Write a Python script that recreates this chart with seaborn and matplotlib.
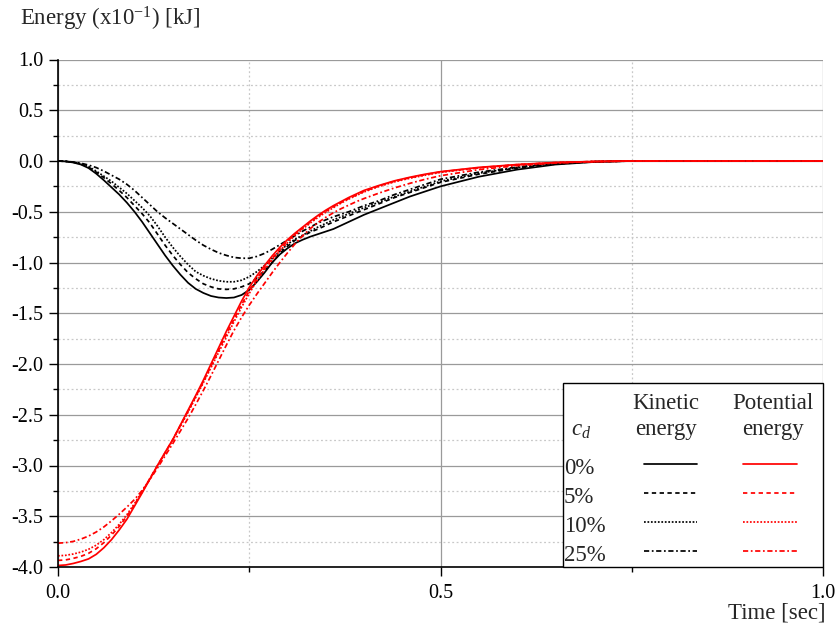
import numpy as np
import pandas as pd
import matplotlib
matplotlib.use("Agg")
import matplotlib.pyplot as plt
import seaborn as sns
from matplotlib.patches import Rectangle
from matplotlib.ticker import MultipleLocator

# ---------------- data ----------------
time = [0.00, 0.01, 0.02, 0.03, 0.04, 0.05, 0.06, 0.07, 0.08, 0.09,
        0.10, 0.11, 0.12, 0.13, 0.14, 0.15, 0.16, 0.17, 0.18, 0.19,
        0.20, 0.21, 0.22, 0.23, 0.24, 0.25, 0.26, 0.27, 0.28, 0.29,
        0.30, 0.31, 0.32, 0.33, 0.34, 0.35, 0.36, 0.37, 0.38, 0.39,
        0.40, 0.42, 0.44, 0.46, 0.48, 0.50, 0.55, 0.60, 0.65, 0.70,
        0.75, 0.80, 0.90, 1.00]

cd_levels = ["0%", "5%", "10%", "25%"]

kinetic_0 = [0, -0.004, -0.015, -0.035, -0.07, -0.125, -0.19, -0.26, -0.33, -0.41,
             -0.50, -0.60, -0.71, -0.82, -0.93, -1.03, -1.12, -1.20, -1.26, -1.30,
             -1.33, -1.345, -1.35, -1.345, -1.32, -1.27, -1.19, -1.10, -1.00, -0.92,
             -0.86, -0.81, -0.775, -0.745, -0.72, -0.695, -0.67, -0.635, -0.60, -0.565,
             -0.53, -0.47, -0.41, -0.35, -0.30, -0.25, -0.155, -0.085, -0.035, -0.01,
             0, 0, 0, 0]
kinetic_5 = [0, -0.004, -0.013, -0.03, -0.06, -0.11, -0.165, -0.225, -0.29, -0.36,
             -0.44, -0.52, -0.61, -0.72, -0.83, -0.93, -1.02, -1.10, -1.16, -1.21,
             -1.24, -1.26, -1.265, -1.26, -1.24, -1.21, -1.15, -1.08, -1.00, -0.91,
             -0.84, -0.78, -0.74, -0.70, -0.67, -0.635, -0.60, -0.57, -0.54, -0.51,
             -0.48, -0.42, -0.36, -0.31, -0.26, -0.21, -0.13, -0.07, -0.03, -0.008,
             0, 0, 0, 0]
kinetic_10 = [0, -0.003, -0.012, -0.028, -0.055, -0.10, -0.15, -0.20, -0.26, -0.32,
              -0.39, -0.46, -0.54, -0.64, -0.75, -0.85, -0.94, -1.02, -1.09, -1.13,
              -1.16, -1.18, -1.19, -1.19, -1.175, -1.14, -1.09, -1.03, -0.96, -0.89,
              -0.82, -0.77, -0.73, -0.69, -0.65, -0.615, -0.58, -0.55, -0.52, -0.49,
              -0.46, -0.405, -0.35, -0.30, -0.25, -0.20, -0.12, -0.065, -0.025, -0.007,
              0, 0, 0, 0]
kinetic_25 = [0, -0.003, -0.01, -0.022, -0.04, -0.065, -0.10, -0.14, -0.18, -0.23,
              -0.29, -0.36, -0.43, -0.50, -0.56, -0.615, -0.67, -0.725, -0.78, -0.83,
              -0.87, -0.905, -0.93, -0.95, -0.958, -0.958, -0.94, -0.91, -0.87, -0.825,
              -0.78, -0.735, -0.69, -0.65, -0.61, -0.58, -0.55, -0.525, -0.50, -0.47,
              -0.44, -0.39, -0.33, -0.28, -0.23, -0.18, -0.11, -0.06, -0.02, -0.005,
              0, 0, 0, 0]

potential_0 = [-3.985, -3.98, -3.965, -3.945, -3.92, -3.875, -3.81, -3.73, -3.635, -3.53,
               -3.40, -3.27, -3.135, -3.00, -2.87, -2.745, -2.60, -2.455, -2.31, -2.16,
               -2.00, -1.84, -1.68, -1.53, -1.38, -1.245, -1.13, -1.03, -0.935, -0.85,
               -0.775, -0.71, -0.65, -0.59, -0.535, -0.485, -0.44, -0.40, -0.36, -0.325,
               -0.29, -0.24, -0.195, -0.16, -0.13, -0.105, -0.063, -0.035, -0.015, -0.005,
               0, 0, 0, 0]
potential_5 = [-3.935, -3.93, -3.915, -3.895, -3.865, -3.82, -3.76, -3.685, -3.60, -3.50,
               -3.385, -3.26, -3.13, -3.00, -2.875, -2.745, -2.605, -2.465, -2.32, -2.175,
               -2.02, -1.865, -1.71, -1.56, -1.415, -1.28, -1.16, -1.055, -0.96, -0.87,
               -0.79, -0.72, -0.66, -0.60, -0.545, -0.495, -0.45, -0.41, -0.37, -0.335,
               -0.30, -0.245, -0.20, -0.165, -0.135, -0.108, -0.066, -0.036, -0.016, -0.005,
               0, 0, 0, 0]
potential_10 = [-3.89, -3.885, -3.872, -3.853, -3.825, -3.785, -3.73, -3.66, -3.58, -3.485,
                -3.375, -3.255, -3.13, -3.005, -2.88, -2.75, -2.615, -2.475, -2.33, -2.185,
                -2.035, -1.885, -1.735, -1.585, -1.44, -1.305, -1.18, -1.07, -0.975, -0.885,
                -0.805, -0.73, -0.67, -0.61, -0.555, -0.505, -0.46, -0.415, -0.375, -0.34,
                -0.305, -0.25, -0.205, -0.17, -0.14, -0.112, -0.068, -0.037, -0.017, -0.006,
                0, 0, 0, 0]
potential_25 = [-3.765, -3.76, -3.748, -3.725, -3.695, -3.655, -3.605, -3.545, -3.48, -3.41,
                -3.335, -3.245, -3.14, -3.025, -2.905, -2.785, -2.66, -2.535, -2.40, -2.26,
                -2.115, -1.965, -1.815, -1.67, -1.54, -1.42, -1.31, -1.205, -1.10, -1.00,
                -0.905, -0.815, -0.735, -0.665, -0.605, -0.555, -0.51, -0.47, -0.435, -0.40,
                -0.37, -0.315, -0.265, -0.22, -0.18, -0.145, -0.085, -0.046, -0.02, -0.007,
                0, 0, 0, 0]

x_ticks = [0.0, 0.5, 1.0]
y_ticks = [1.0, 0.5, 0.0, -0.5, -1.0, -1.5, -2.0, -2.5, -3.0, -3.5, -4.0]

# ---------------- build long table ----------------
series = {
    ("Kinetic", "0%"): kinetic_0, ("Kinetic", "5%"): kinetic_5,
    ("Kinetic", "10%"): kinetic_10, ("Kinetic", "25%"): kinetic_25,
    ("Potential", "0%"): potential_0, ("Potential", "5%"): potential_5,
    ("Potential", "10%"): potential_10, ("Potential", "25%"): potential_25,
}
rows = []
for (kind, cd), vals in series.items():
    for t, e in zip(time, vals):
        rows.append({"t": t, "E": e, "kind": kind, "cd": cd})
df = pd.DataFrame(rows)

# ---------------- style ----------------
sns.set_theme(style="white")
plt.rcParams["font.family"] = ["Liberation Serif", "DejaVu Serif"]
plt.rcParams["mathtext.fontset"] = "custom"
plt.rcParams["mathtext.rm"] = "Liberation Serif"
plt.rcParams["mathtext.it"] = "Liberation Serif:italic"
plt.rcParams["axes.unicode_minus"] = False

colors = {"Kinetic": "black", "Potential": "#ff0000"}
dash_map = {"0%": "", "5%": (2.5, 2.0), "10%": (1.0, 1.0), "25%": (3.0, 1.5, 1.0, 1.5)}
LW = 1.25

fig = plt.figure(figsize=(8.35, 6.30), dpi=100)
ax = fig.add_axes([58 / 835, 1 - 567 / 630, 765 / 835, 507.5 / 630])

for kind in ["Kinetic", "Potential"]:
    sub = df[df["kind"] == kind]
    sns.lineplot(data=sub, x="t", y="E", style="cd", style_order=cd_levels,
                 dashes=dash_map, color=colors[kind], lw=LW, estimator=None,
                 sort=False, legend=False, ax=ax, zorder=3)

ax.set_xlim(0, 1.0)
ax.set_ylim(-4.0, 1.0)
ax.set_xticks(x_ticks)
ax.set_xticklabels([f"{v:.1f}" for v in x_ticks])
ax.set_yticks(y_ticks)
ax.set_yticklabels([f"{v:.1f}" for v in y_ticks])
ax.xaxis.set_minor_locator(MultipleLocator(0.25))
ax.yaxis.set_minor_locator(MultipleLocator(0.25))
ax.set_xlabel("")
ax.set_ylabel("")

ax.grid(which="major", color="#9a9a9a", lw=0.9, ls="-", zorder=0)
ax.grid(which="minor", color="#c8c8c8", lw=0.9, ls=(0, (1.5, 2)), zorder=0)

for s in ["top", "right"]:
    ax.spines[s].set_visible(False)
for s in ["left", "bottom"]:
    ax.spines[s].set_color("black")
    ax.spines[s].set_linewidth(1.2)
    ax.spines[s].set_zorder(5)

ax.tick_params(which="major", direction="out", length=6.5, width=1.0, color="black",
               labelsize=14.5, labelcolor="black", pad=4)
ax.tick_params(which="minor", direction="out", length=3.6, width=1.0, color="black")
ax.tick_params(axis="x", which="major", pad=6)
ax.tick_params(left=True, bottom=True, which="both")

# axis titles
fig.text(20 / 835, 1 - 19 / 630, r"Energy (x10$^{\mathregular{-1}}$) [kJ]", fontsize=16.5,
         ha="left", va="center")
fig.text(826 / 835, 1 - 613 / 630, "Time [sec]", fontsize=16.5, ha="right", va="center")

# ---------------- legend table ----------------
def ax_x(px):
    return (px - 58) / 765

def ax_y(py):
    return (567 - py) / 507.5

box = Rectangle((ax_x(563), 0), 1 - ax_x(563), ax_y(383), transform=ax.transAxes,
                facecolor="white", edgecolor="black", lw=1.0, zorder=6, clip_on=False)
ax.add_patch(box)

tfs = 16.5
ax.text(ax_x(666), ax_y(409), "Kinetic", transform=ax.transAxes, ha="center",
        va="baseline", fontsize=tfs, zorder=7)
ax.text(ax_x(666), ax_y(435), "energy", transform=ax.transAxes, ha="center",
        va="baseline", fontsize=tfs, zorder=7)
ax.text(ax_x(773), ax_y(409), "Potential", transform=ax.transAxes, ha="center",
        va="baseline", fontsize=tfs, zorder=7)
ax.text(ax_x(773), ax_y(435), "energy", transform=ax.transAxes, ha="center",
        va="baseline", fontsize=tfs, zorder=7)
ax.text(ax_x(571), ax_y(436), r"$c_d$", transform=ax.transAxes, ha="left",
        va="baseline", fontsize=tfs, zorder=7)

row_y = [463.5, 492.5, 521.5, 550.5]
for cd, py in zip(cd_levels, row_y):
    ax.text(ax_x(564), ax_y(py + 10.5), cd, transform=ax.transAxes, ha="left",
            va="baseline", fontsize=tfs, zorder=7)
    for kind, (x0, x1) in [("Kinetic", (644, 697)), ("Potential", (743, 797))]:
        ln, = ax.plot([ax_x(x0), ax_x(x1)], [ax_y(py), ax_y(py)], transform=ax.transAxes,
                      color=colors[kind], lw=LW, zorder=7, clip_on=False)
        if dash_map[cd]:
            ln.set_dashes(dash_map[cd])

fig.savefig("out.png", dpi=100)
